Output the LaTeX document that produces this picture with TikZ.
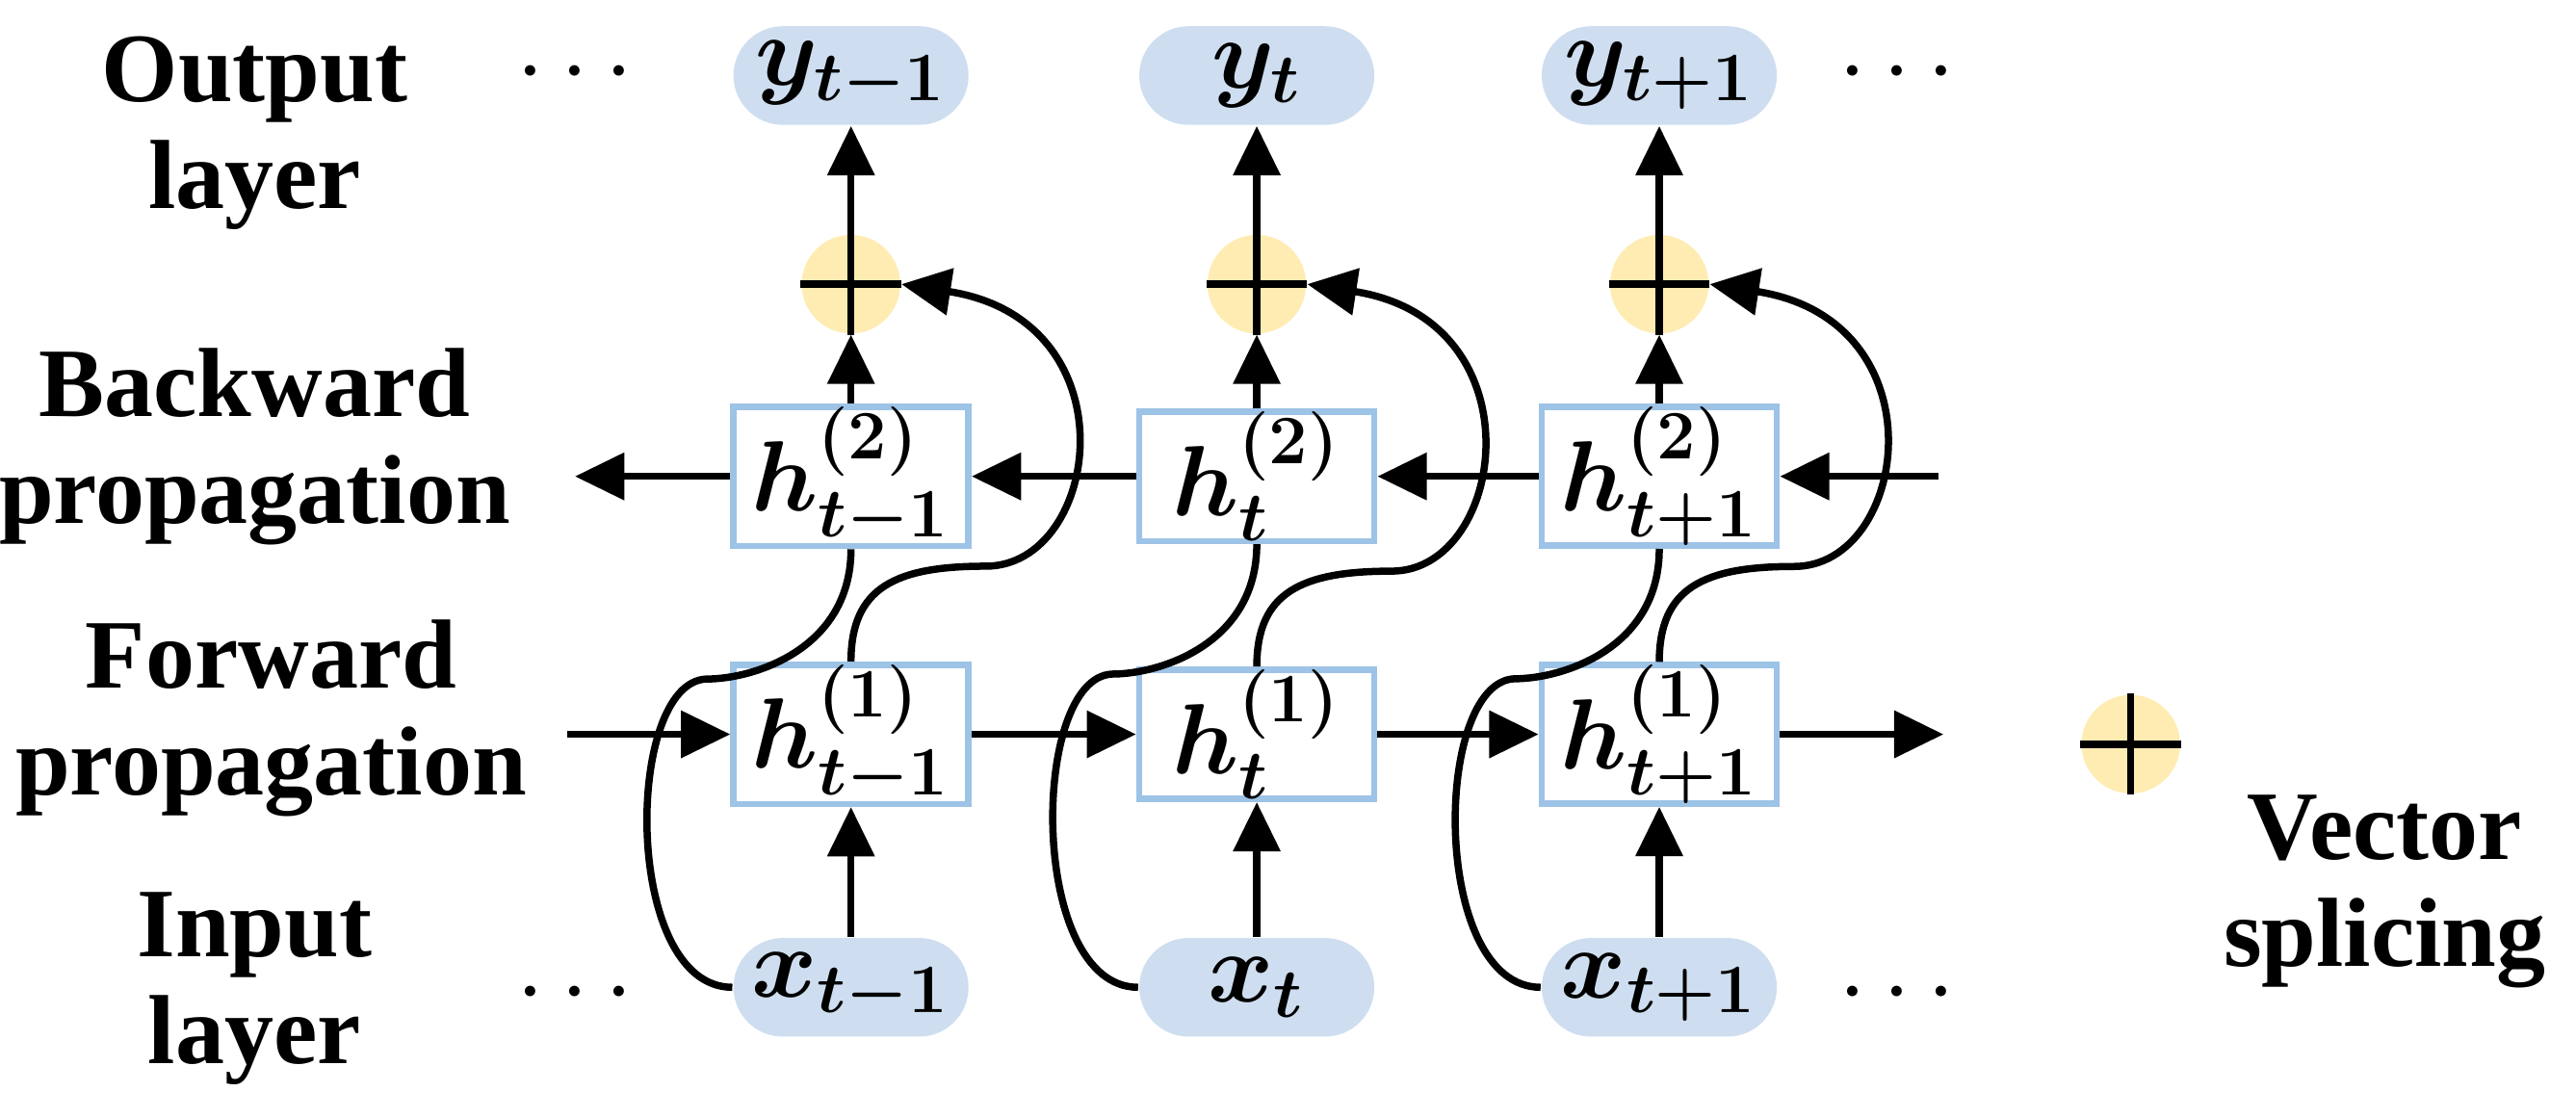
\documentclass[tikz,border=0pt]{standalone}
\usepackage{amsmath}
\usepackage{bm}
\usepackage{fontspec}
\setmainfont{Liberation Serif}
\usetikzlibrary{arrows.meta}
\definecolor{boxb}{RGB}{157,195,230}
\definecolor{ovalf}{RGB}{206,222,240}
\definecolor{plusf}{RGB}{255,236,179}
\begin{document}
\begin{tikzpicture}[x=0.01cm,y=-0.01cm,
  ln/.style={line width=1.25pt},
  ar/.style={ln,-{Triangle[length=0.3cm,width=0.28cm]}},
  box/.style={draw=boxb,line width=1.1pt,fill=white,minimum width=1.43cm,minimum height=0.75cm,inner sep=0pt,font=\fontsize{17}{20}\selectfont},
  oval/.style={fill=ovalf,rounded corners=0.3cm,minimum width=1.43cm,minimum height=0.6cm,inner sep=0pt,font=\fontsize{17}{20}\selectfont},
  plus/.style={circle,fill=plusf,minimum size=0.6cm,inner sep=0pt},
  lab/.style={font=\bfseries\fontsize{17}{18.5}\selectfont,align=center},
  dots/.style={font=\fontsize{17}{20}\selectfont}]
\useasboundingbox (0,0) rectangle (1568,680);
% labels
\node[lab] (lo) at (155,81) {Output\\layer};
\node[lab] (lb) at (155,272) {Backward\\propagation};
\node[lab] (lf) at (165,437) {Forward\\propagation};
\node[lab] (li) at (155,602) {Input\\layer};
\node[dots] (d1) at (355,45) {$\cdots$};
\node[dots] (d2) at (1160,45) {$\cdots$};
\node[dots] (d3) at (355,605) {$\cdots$};
\node[dots] (d4) at (1160,605) {$\cdots$};
% columns
\foreach \i/\x/\s in {a/518/{t-1},b/765/{t},c/1010/{t+1}}{
  \node[oval] (y\i) at (\x,46) {$\bm{y_{\s}}$};
  \node[plus] (p\i) at (\x,173) {};
  \draw[ln] (p\i.west) -- (p\i.east);
  \node[box] (h2\i) at (\x,290) {$\bm{h^{(2)}_{\s}}$};
  \node[box] (h1\i) at (\x,447) {$\bm{h^{(1)}_{\s}}$};
  \node[oval] (x\i) at (\x,601) {$\bm{x_{\s}}$};
  \draw[ar] (x\i.north) -- (h1\i.south);
  \draw[ar] (h2\i.north) -- (p\i.south);
  \draw[ar] (p\i.south) -- (y\i.south);
  \draw[ar] (h1\i.north) .. controls ([yshift=0.45cm]h1\i.north) and ([xshift=0.27cm,yshift=0.58cm]h1\i.north) .. ([xshift=0.82cm,yshift=0.58cm]h1\i.north)
     .. controls ([xshift=1.52cm,yshift=0.58cm]h1\i.north) and ([xshift=1.42cm,yshift=-0.22cm]p\i.east) .. (p\i.east);
  \draw[ln] (h2\i.south) .. controls ([yshift=-0.6cm]h2\i.south) and ([xshift=-0.58cm,yshift=-0.79cm]h2\i.south) .. ([xshift=-0.88cm,yshift=-0.79cm]h2\i.south)
     .. controls ([xshift=-1.38cm,yshift=-0.81cm]h2\i.south) and ([xshift=-0.67cm]x\i.west) .. (x\i.west);
}
\coordinate (bin) at (1180,290);
\coordinate (bout) at (350,290);
\coordinate (fin) at (345,447);
\coordinate (fout) at (1183,447);
\draw[ar] (bin) -- (h2c.east);
\draw[ar] (h2c.west) -- (h2b.east);
\draw[ar] (h2b.west) -- (h2a.east);
\draw[ar] (h2a.west) -- (bout);
\draw[ar] (fin) -- (h1a.west);
\draw[ar] (h1a.east) -- (h1b.west);
\draw[ar] (h1b.east) -- (h1c.west);
\draw[ar] (h1c.east) -- (fout);
% legend
\node[plus] (lp) at (1297,453) {};
\draw[ln] (lp.west) -- (lp.east);
\draw[ln] (lp.north) -- (lp.south);
\node[lab,anchor=east] (lv) at (1562,543) {Vector\\splicing};
\end{tikzpicture}
\end{document}
